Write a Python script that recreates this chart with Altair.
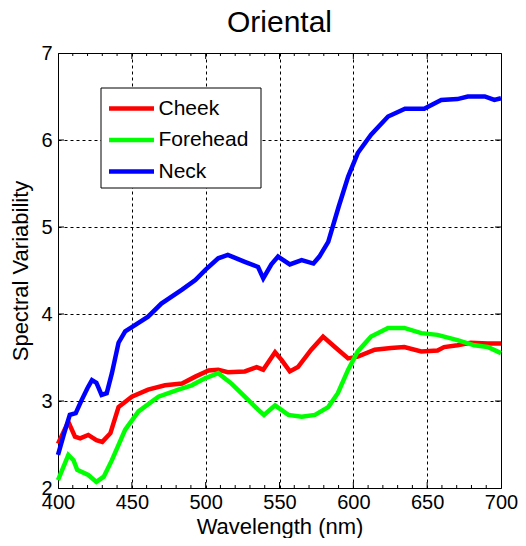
import altair as alt
import pandas as pd

# ---- data ----
neck_wl = [400, 404, 408, 412, 416, 420, 423, 426, 429.5, 433, 436.5, 441, 445.5, 450, 461, 470,
           484, 493, 500, 508.5, 515, 526.5, 535.5, 539, 544.5, 549, 557, 565, 573, 577, 583,
           590, 596.5, 603, 612, 623.5, 635, 648, 659.5, 670.5, 677.5, 689, 695.5, 700]
neck_val = [2.38, 2.62, 2.84, 2.86, 3.01, 3.15, 3.24, 3.21, 3.07, 3.09, 3.32, 3.67, 3.80, 3.85, 3.97, 4.12,
            4.28, 4.39, 4.51, 4.64, 4.68, 4.60, 4.54, 4.41, 4.57, 4.66, 4.57, 4.62, 4.58, 4.66, 4.83,
            5.23, 5.58, 5.85, 6.06, 6.27, 6.36, 6.36, 6.46, 6.47, 6.50, 6.50, 6.46, 6.48]

cheek_wl = [400, 407, 411.5, 415, 420.5, 426, 430, 435.5, 441, 450, 461, 472.5, 484, 493, 502, 508.5,
            515, 526.5, 534.5, 539, 547, 551.5, 557, 562.5, 571.5, 579.5, 587.5, 596.5, 603, 614.5,
            625.5, 634.5, 646, 657, 661.5, 670.5, 679.5, 691, 700]
cheek_val = [2.51, 2.76, 2.59, 2.57, 2.61, 2.55, 2.53, 2.63, 2.93, 3.05, 3.13, 3.18, 3.20, 3.28, 3.35, 3.36,
             3.33, 3.34, 3.39, 3.36, 3.56, 3.47, 3.34, 3.39, 3.59, 3.74, 3.62, 3.49, 3.51, 3.59,
             3.61, 3.62, 3.57, 3.58, 3.62, 3.64, 3.67, 3.66, 3.66]

forehead_wl = [400, 407, 410.5, 413, 420.5, 426, 431, 436.5, 445.5, 454.5, 468, 481.5, 490.5, 499.5,
               508.5, 517.5, 526.5, 535.5, 539.5, 547, 556, 565, 574, 583, 589.5, 596.5, 603, 612,
               623.5, 634.5, 646, 657, 670.5, 682, 691, 700]
forehead_val = [2.09, 2.38, 2.32, 2.21, 2.15, 2.07, 2.13, 2.32, 2.67, 2.88, 3.05, 3.13, 3.18, 3.26,
                3.32, 3.20, 3.05, 2.90, 2.84, 2.95, 2.84, 2.82, 2.84, 2.93, 3.09, 3.36, 3.57, 3.74,
                3.84, 3.84, 3.78, 3.76, 3.70, 3.64, 3.62, 3.55]

series_names = ["Cheek", "Forehead", "Neck"]
series_colors = ["#ff0000", "#00ff00", "#0000ff"]

x_ticks = [400, 450, 500, 550, 600, 650, 700]
x_minor = [t for t in range(410, 700, 10) if t % 50 != 0]
x_major_inner = [450, 500, 550, 600, 650]
y_ticks = [2, 3, 4, 5, 6, 7]
y_major_inner = [3, 4, 5, 6]

W, H = 443, 435
FONT = "Liberation Sans"

rows = []
for name, wl, val in [("Cheek", cheek_wl, cheek_val),
                      ("Forehead", forehead_wl, forehead_val),
                      ("Neck", neck_wl, neck_val)]:
    for i, (w, v) in enumerate(zip(wl, val)):
        rows.append({"series": name, "wl": w, "val": v, "order": i})
df = pd.DataFrame(rows)

xscale = alt.Scale(domain=[400, 700], nice=False, zero=False)
yscale = alt.Scale(domain=[2, 7], nice=False, zero=False)
xaxis = alt.Axis(values=x_ticks, title="Wavelength (nm)", format="d")
yaxis = alt.Axis(values=y_ticks, title="Spectral Variability", format="d")

lines = alt.Chart(df).mark_line(strokeWidth=4.5).encode(
    x=alt.X("wl:Q", scale=xscale, axis=xaxis),
    y=alt.Y("val:Q", scale=yscale, axis=yaxis),
    order="order:Q",
    color=alt.Color("series:N",
                    scale=alt.Scale(domain=series_names, range=series_colors),
                    legend=alt.Legend(title=None, orient="none", legendX=52, legendY=34,
                                      symbolType="M-2,0L2,0", symbolSize=506,
                                      symbolStrokeWidth=4.5, labelFontSize=21,
                                      labelFont=FONT, labelOffset=13.5, rowPadding=7.5,
                                      padding=8)),
)

# legend frame
legend_box = alt.Chart(pd.DataFrame({"k": [0]})).mark_rect(
    fill="#fff", stroke="#000", strokeWidth=1
).encode(x=alt.value(43), x2=alt.value(203), y=alt.value(35), y2=alt.value(135))

def xtick_layer(vals, y_from, y_to):
    return alt.Chart(pd.DataFrame({"t": vals})).mark_rule(color="#000", strokeWidth=1).encode(
        x=alt.X("t:Q", scale=xscale, axis=xaxis),
        y=alt.value(y_from), y2=alt.value(y_to))

def ytick_layer(vals, x_from, x_to):
    return alt.Chart(pd.DataFrame({"t": vals})).mark_rule(color="#000", strokeWidth=1).encode(
        y=alt.Y("t:Q", scale=yscale, axis=yaxis),
        x=alt.value(x_from), x2=alt.value(x_to))

ticks = [
    xtick_layer(x_minor, H, H - 3),
    xtick_layer(x_minor, 0, 3),
    xtick_layer(x_major_inner, H, H - 6),
    xtick_layer(x_major_inner, 0, 6),
    ytick_layer(y_major_inner, 0, 6),
    ytick_layer(y_major_inner, W, W - 6),
]

chart = alt.layer(lines, *ticks, legend_box).properties(
    width=W, height=H,
    title=alt.Title("Oriental", fontSize=30, font=FONT, fontWeight="normal",
                    color="#000", offset=5, anchor="middle"),
    autosize=alt.AutoSizeParams(type="none"),
    padding={"left": 50, "top": 45, "right": 17, "bottom": 50},
).configure_view(
    stroke="#000", strokeWidth=1
).configure_axis(
    domain=False, ticks=False, tickSize=0,
    grid=True, gridColor="#000", gridDash=[3, 3], gridOpacity=1, gridWidth=1,
    labelFont=FONT, labelFontSize=20, labelColor="#000",
    titleFont=FONT, titleFontSize=22, titleFontWeight="normal", titleColor="#000",
).configure_axisX(
    labelPadding=4, titlePadding=4, labelFlush=False,
).configure_axisY(
    labelPadding=6, titlePadding=8, labelFlush=False,
)

chart.save("out.html", embed_options={"renderer": "svg", "actions": False})
